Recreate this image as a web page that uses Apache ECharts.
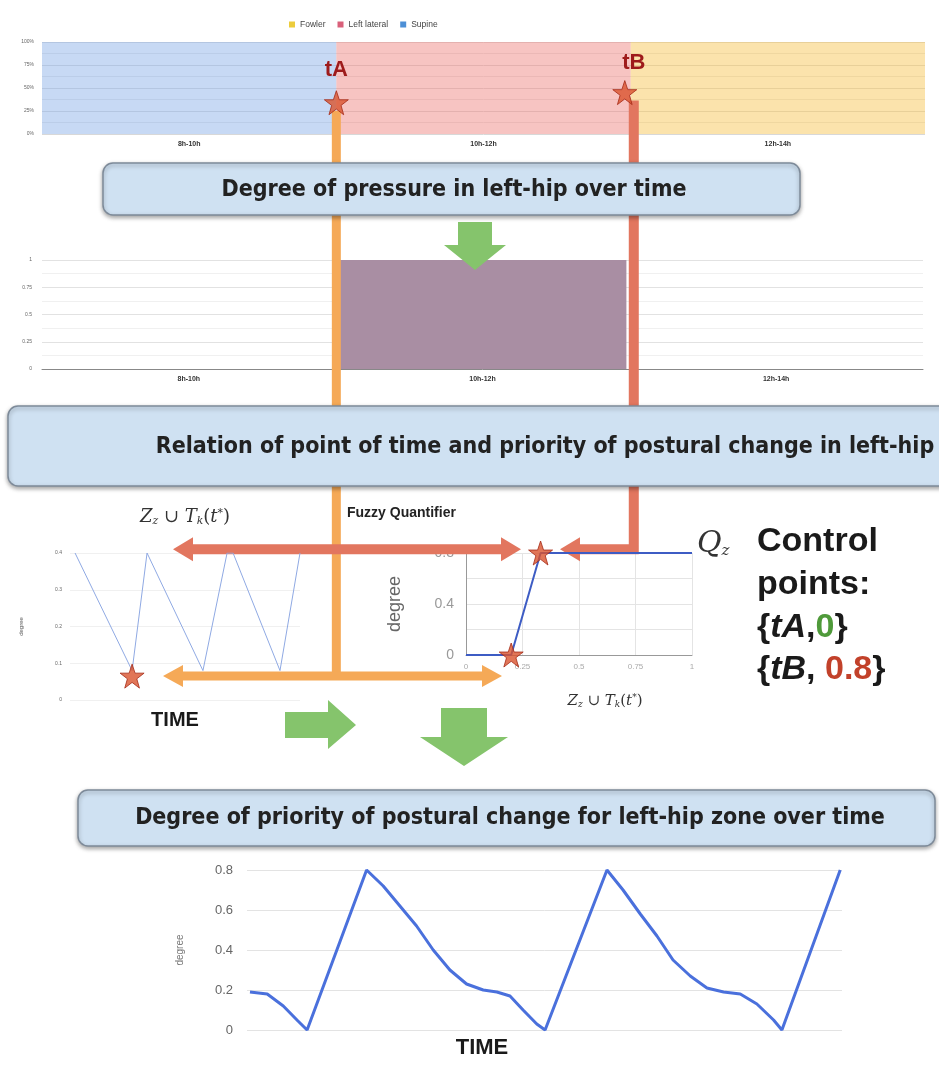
<!DOCTYPE html>
<html><head><meta charset="utf-8">
<script src="https://cdn.jsdelivr.net/npm/echarts@6/dist/echarts.min.js"></script>
<style>html,body{margin:0;padding:0;background:#fff}#c{width:939px;height:1066px}</style>
</head><body><div id="c"></div>
<script>
// ---------------- DATA ----------------
const periods = ['8h-10h', '10h-12h', '12h-14h'];
const postureNames = ['Fowler', 'Left lateral', 'Supine'];
const supine = [100, 0, 0];
const leftLateral = [0, 100, 0];
const fowler = [0, 0, 100];
const pressureLeftHip = [0, 1, 0];
// tA / tB control points on the posture timeline (x in period units, y in %)
const controlTop = [[1, 34], [1.98, 45]];
const controlLabels = ['tA', 'tB'];
// small fuzzy union chart
const smallTime = [2.2, 27, 33.5, 57.8, 68.3, 70.9, 91.3, 100];
const smallDegree = [0.4, 0.08, 0.4, 0.08, 0.4, 0.4, 0.08, 0.4];
const smallStars = [[27, 0.065], [33.5, 0.41]];
// fuzzy quantifier
const fuzzyX = [0, 0.2, 0.33, 1];
const fuzzyY = [0, 0, 0.8, 0.8];
const fuzzyStars = [[0.2, 0], [0.33, 0.8]];
// priority over time
const prioTime = [0.5, 3.4, 6.1, 8.4, 10.1, 20.1, 22.9, 25.7, 28.5, 31.3, 34.1, 36.9, 39.7, 42, 44.2, 46.4, 48.7, 50.1,
  60.5, 63.2, 66.1, 68.9, 71.6, 74.5, 77.3, 80.1, 82.9, 85.7, 88.5, 89.9, 99.7];
const prioDegree = [0.19, 0.18, 0.12, 0.05, 0, 0.8, 0.72, 0.62, 0.52, 0.40, 0.30, 0.23, 0.20, 0.19, 0.17, 0.10, 0.03, 0,
  0.8, 0.7, 0.58, 0.47, 0.35, 0.27, 0.21, 0.19, 0.18, 0.13, 0.05, 0, 0.8];

// ---------------- STYLE ----------------
const STAR = 'path://M50 2 L61.8 37 L98 37 L68.8 59 L79.4 95 L50 73 L20.6 95 L31.2 59 L2 37 L38.2 37 Z';
const starStyle = { color: '#d9542e', borderColor: '#a52a18', borderWidth: 1 };
const ORANGE = '#f5a957', RED = '#e2765f', GREEN = '#85c46c';
const SANS = '"Liberation Sans", Arial, sans-serif';
const COND = '"DejaVu Sans Condensed", "Liberation Sans Narrow", "Liberation Sans", sans-serif';
const zip = (a, b) => a.map((v, i) => [v, b[i]]);

const chart = echarts.init(document.getElementById('c'), null, { renderer: 'canvas' });
const catLabel = { fontSize: 7, fontWeight: 'bold', color: '#333', margin: 7 };
const noLine = { show: false };

chart.setOption({
  animation: false,
  backgroundColor: '#fff',
  textStyle: { fontFamily: SANS },
  legend: {
    top: 15, left: 284, itemWidth: 6, itemHeight: 6, itemGap: 12, icon: 'rect',
    textStyle: { fontSize: 8.5, color: '#444' },
    data: [
      { name: 'Fowler', itemStyle: { color: '#eccc3c', opacity: 1 } },
      { name: 'Left lateral', itemStyle: { color: '#d9607a', opacity: 1 } },
      { name: 'Supine', itemStyle: { color: '#4d8fd6', opacity: 1 } }
    ]
  },
  grid: [
    { left: 42, top: 42, width: 883, height: 92 },
    { left: 42, top: 260, width: 881, height: 109 },
    { left: 70, top: 553, width: 230, height: 147 },
    { left: 466, top: 553, width: 226, height: 102 },
    { left: 247, top: 870, width: 595, height: 160 }
  ],
  xAxis: [
    { type: 'category', gridIndex: 0, data: periods, axisTick: noLine, axisLine: noLine, axisLabel: catLabel },
    { type: 'value', gridIndex: 0, min: 0, max: 3, show: false },
    { type: 'category', gridIndex: 1, data: periods, axisTick: noLine, axisLine: { lineStyle: { color: '#888' } }, axisLabel: catLabel },
    { type: 'value', gridIndex: 2, min: 0, max: 100, show: false },
    { type: 'value', gridIndex: 3, min: 0, max: 1, interval: 0.25, axisTick: noLine,
      axisLine: { lineStyle: { color: '#999' } }, axisLabel: { fontSize: 8, color: '#aaa', margin: 8 },
      splitLine: { lineStyle: { color: '#e4e4e4' } } },
    { type: 'value', gridIndex: 4, min: 0, max: 100, show: false }
  ],
  yAxis: [
    { type: 'value', gridIndex: 0, min: 0, max: 100, interval: 25, axisLine: noLine, axisTick: noLine,
      axisLabel: { formatter: '{value}%', fontSize: 5, color: '#666', margin: 8 },
      splitLine: { lineStyle: { color: '#d8d8d8' } }, minorTick: { show: false, splitNumber: 2 },
      minorSplitLine: { show: true, lineStyle: { color: '#e6e6e6' } } },
    { type: 'value', gridIndex: 1, min: 0, max: 1, interval: 0.25, axisLine: noLine, axisTick: noLine,
      axisLabel: { fontSize: 5, color: '#666', margin: 10 },
      splitLine: { lineStyle: { color: '#e2e2e2' } }, minorTick: { show: false, splitNumber: 2 },
      minorSplitLine: { show: true, lineStyle: { color: '#f0f0f0' } } },
    { type: 'value', gridIndex: 2, min: 0, max: 0.4, interval: 0.1, axisLine: noLine, axisTick: noLine,
      name: 'degree', nameLocation: 'middle', nameGap: 46, nameTextStyle: { fontSize: 6, color: '#555' },
      axisLabel: { fontSize: 5, color: '#666', margin: 8 },
      splitLine: { lineStyle: { color: '#f0f0f0' } } },
    { type: 'value', gridIndex: 3, min: 0, max: 0.8, interval: 0.4, axisTick: noLine,
      name: 'degree', nameLocation: 'middle', nameGap: 62, nameTextStyle: { fontSize: 18, color: '#666' },
      axisLine: { show: true, lineStyle: { color: '#999' } },
      axisLabel: { fontSize: 14, color: '#999', margin: 12 },
      splitLine: { lineStyle: { color: '#e4e4e4' } }, minorTick: { show: false, splitNumber: 2 },
      minorSplitLine: { show: true, lineStyle: { color: '#e4e4e4' } } },
    { type: 'value', gridIndex: 4, min: 0, max: 0.8, interval: 0.2, axisLine: noLine, axisTick: noLine,
      name: 'degree', nameLocation: 'middle', nameGap: 62, nameTextStyle: { fontSize: 10, color: '#777' },
      axisLabel: { fontSize: 13, color: '#666', margin: 14 },
      splitLine: { lineStyle: { color: '#e3e3e3' } } }
  ],
  series: [
    { name: 'Supine', type: 'bar', xAxisIndex: 0, yAxisIndex: 0, stack: 'p', barCategoryGap: '0%', data: supine,
      itemStyle: { color: '#8fb4ea', opacity: 0.5 } },
    { name: 'Left lateral', type: 'bar', xAxisIndex: 0, yAxisIndex: 0, stack: 'p', barCategoryGap: '0%', data: leftLateral,
      itemStyle: { color: '#ef8a85', opacity: 0.5 } },
    { name: 'Fowler', type: 'bar', xAxisIndex: 0, yAxisIndex: 0, stack: 'p', barCategoryGap: '0%', data: fowler,
      itemStyle: { color: '#f7c85a', opacity: 0.5 } },
    { name: 'control', type: 'scatter', xAxisIndex: 1, yAxisIndex: 0, symbol: STAR, symbolSize: 24, z: 10,
      data: controlTop, itemStyle: starStyle },
    { name: 'pressure', type: 'bar', xAxisIndex: 2, yAxisIndex: 1, barWidth: '98%', data: pressureLeftHip,
      itemStyle: { color: '#a98ea3' } },
    { name: 'union', type: 'line', xAxisIndex: 3, yAxisIndex: 2, symbol: 'none', data: zip(smallTime, smallDegree),
      lineStyle: { color: '#8fa9e3', width: 1 } },
    { name: 'unionStars', type: 'scatter', xAxisIndex: 3, yAxisIndex: 2, symbol: STAR, symbolSize: 24, z: 10,
      data: smallStars, itemStyle: starStyle },
    { name: 'quantifier', type: 'line', xAxisIndex: 4, yAxisIndex: 3, symbol: 'none', data: zip(fuzzyX, fuzzyY),
      lineStyle: { color: '#3d5cc4', width: 2 } },
    { name: 'quantStars', type: 'scatter', xAxisIndex: 4, yAxisIndex: 3, symbol: STAR, symbolSize: 24, z: 10,
      data: fuzzyStars, itemStyle: starStyle },
    { name: 'priority', type: 'line', xAxisIndex: 5, yAxisIndex: 4, symbol: 'none', data: zip(prioTime, prioDegree),
      lineStyle: { color: '#4a70dc', width: 3 } }
  ]
});

// ---------------- ANNOTATIONS ----------------
const pA = chart.convertToPixel({ seriesIndex: 3 }, controlTop[0]);
const pB = chart.convertToPixel({ seriesIndex: 3 }, controlTop[1]);
const sLow = chart.convertToPixel({ seriesIndex: 6 }, smallStars[0]);
const sHigh = chart.convertToPixel({ seriesIndex: 6 }, smallStars[1]);

function poly(points, fill, z) { return { type: 'polygon', z: z || 3, shape: { points }, style: { fill } }; }
function dblArrow(x1, x2, y, w, head, hw, fill) {
  return poly([[x1, y], [x1 + head, y - hw], [x1 + head, y - w / 2], [x2 - head, y - w / 2], [x2 - head, y - hw], [x2, y],
    [x2 - head, y + hw], [x2 - head, y + w / 2], [x1 + head, y + w / 2], [x1 + head, y + hw]], fill);
}
function box(x, y, w, h) {
  return { type: 'rect', z: 20, shape: { x, y, width: w, height: h, r: 10 },
    style: { fill: '#cfe1f2', stroke: '#7d8a99', lineWidth: 1.5, shadowBlur: 4, shadowOffsetY: 2, shadowColor: 'rgba(0,0,0,0.35)' } };
}
function txt(x, y, text, font, fill, align, extra) {
  return { type: 'text', z: 21, style: Object.assign({ x, y, text, font, fill: fill || '#222', align: align || 'center', verticalAlign: 'middle' }, extra || {}) };
}
const oy = sLow[1], ry = sHigh[1];
const ax = pA[0], bx = pB[0] + 9;
const serif = '"DejaVu Serif", "Liberation Serif", serif';
const unionRich = (s) => ({
  rich: {
    i: { fontFamily: serif, fontStyle: 'italic', fontSize: s, fill: '#333' },
    n: { fontFamily: serif, fontSize: s, fill: '#333' },
    s: { fontFamily: serif, fontStyle: 'italic', fontSize: s * 0.6, fill: '#333', verticalAlign: 'bottom', padding: [s * 0.5, 0, 0, 0] },
    u: { fontFamily: serif, fontSize: s * 0.6, fill: '#333', padding: [0, 0, s * 0.4, 0] }
  }
});
const unionText = '{i|Z}{s|z}{n| ∪ }{i|T}{s|k}{n|(}{i|t}{u|*}{n|)}';
const CP = 'bold 34px ' + SANS, CPI = 'italic bold 34px ' + SANS;

const graphics = [
  // tA orange connector
  { type: 'line', z: 3, shape: { x1: ax, y1: pA[1] + 8, x2: ax, y2: oy }, style: { stroke: ORANGE, lineWidth: 9 } },
  dblArrow(163, 502, oy, 9, 20, 11, ORANGE),
  // tB red connector
  { type: 'polyline', z: 3, shape: { points: [[bx, pB[1] + 8], [bx, ry], [578, ry]] }, style: { stroke: RED, lineWidth: 10, lineJoin: 'miter' } },
  poly([[560, ry], [580, ry - 12], [580, ry + 12]], RED),
  dblArrow(173, 521, ry, 10, 20, 12, RED),
  // green arrows
  poly([[458, 222], [492, 222], [492, 245], [506, 245], [475, 270], [444, 245], [458, 245]], GREEN),
  poly([[285, 712], [328, 712], [328, 700], [356, 725], [328, 749], [328, 738], [285, 738]], GREEN),
  poly([[441, 708], [487, 708], [487, 737], [508, 737], [464, 766], [420, 737], [441, 737]], GREEN),
  // boxes
  box(103, 163, 697, 52),
  box(8, 406, 945, 80),
  box(78, 790, 857, 56),
  txt(454, 190, 'Degree of pressure in left-hip over time', 'bold 23px ' + COND),
  txt(545, 447, 'Relation of point of time and priority of postural change in left-hip', 'bold 23px ' + COND),
  txt(510, 818, 'Degree of priority of postural change for left-hip zone over time', 'bold 23px ' + COND),
  // tA / tB
  txt(ax, 70, controlLabels[0], 'bold 22px ' + SANS, '#9e1b1b'),
  txt(bx, 63, controlLabels[1], 'bold 22px ' + SANS, '#9e1b1b'),
  // texts
  txt(347, 513, 'Fuzzy Quantifier', 'bold 14px ' + SANS, '#222', 'left'),
  txt(185, 517, unionText, '18px ' + serif, '#333', 'center', unionRich(18)),
  txt(605, 701, unionText, '15px ' + serif, '#333', 'center', unionRich(15)),
  txt(697, 544, '{q|Q}{s|z}', '30px ' + serif, '#333', 'left', { rich: {
    q: { fontFamily: serif, fontStyle: 'italic', fontSize: 30, fill: '#333' },
    s: { fontFamily: serif, fontStyle: 'italic', fontSize: 15, fill: '#333', padding: [14, 0, 0, 0] } } }),
  txt(757, 542, 'Control', CP, '#1a1a1a', 'left'),
  txt(757, 585, 'points:', CP, '#1a1a1a', 'left'),
  txt(757, 628, '{b|{}{i|tA}{b|,}{g|0}{b|}}', CP, '#1a1a1a', 'left', { rich: {
    b: { font: CP, fill: '#1a1a1a' }, i: { font: CPI, fill: '#1a1a1a' },
    g: { font: CP, fill: '#4f9a3a' } } }),
  txt(757, 670, '{b|{}{i|tB}{b|, }{r|0.8}{b|}}', CP, '#1a1a1a', 'left', { rich: {
    b: { font: CP, fill: '#1a1a1a' }, i: { font: CPI, fill: '#1a1a1a' },
    r: { font: CP, fill: '#c2412a' } } }),
  txt(175, 720, 'TIME', 'bold 20px ' + SANS, '#1a1a1a'),
  txt(482, 1048, 'TIME', 'bold 22px ' + SANS, '#1a1a1a')
];
chart.setOption({ graphic: graphics });
</script></body></html>
